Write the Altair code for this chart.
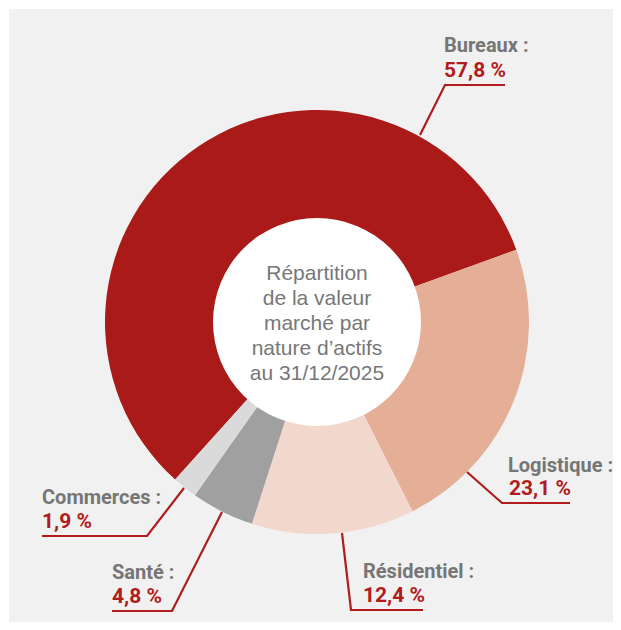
import math
import altair as alt
import pandas as pd

# ---- data ----
categories = ["Bureaux", "Logistique", "Résidentiel", "Santé", "Commerces"]
values = [57.8, 23.1, 12.4, 4.8, 1.9]
colors = ["#a91a18", "#e4ae97", "#f2d7cc", "#a0a0a0", "#dadada"]
center_lines = ["Répartition", "de la valeur", "marché par", "nature d’actifs", "au 31/12/2025"]

# ---- layout (page pixel coordinates) ----
OFF = 9
W, H = 604, 613
CX, CY = 317 - OFF, 322 - OFF
R_OUT, R_IN = 212, 104
START_DEG = 222.0

label_pos = {  # name baseline anchor (left), value baseline anchor (left)
    "Bureaux": ((444, 52), (444, 77)),
    "Logistique": ((508, 472), (509, 495)),
    "Résidentiel": ((363, 578), (363, 602)),
    "Santé": ((112, 579), (112, 603)),
    "Commerces": ((42, 504), (42, 528)),
}
leaders = {
    "Bureaux": [(420, 135), (445, 85), (505, 85)],
    "Logistique": [(467, 472), (502, 503), (570, 503)],
    "Résidentiel": [(342, 533), (351, 610), (423, 610)],
    "Santé": [(222, 512), (172, 611), (112, 611)],
    "Commerces": [(184, 488), (147, 536), (42, 536)],
}

RED_TXT = "#b01c1c"
GRAY_TXT = "#767676"
LINE_RED = "#b01c1c"
LABEL_FONT = "Roboto, sans-serif"

df = pd.DataFrame({"cat": categories, "val": values, "idx": list(range(len(values)))})

start = math.radians(START_DEG)
arcs = alt.Chart(df).mark_arc(outerRadius=R_OUT, innerRadius=R_IN - 2, stroke=None).encode(
    theta=alt.Theta("val:Q", stack=True, scale=alt.Scale(range=[start, start + 2 * math.pi])),
    order=alt.Order("idx:Q"),
    color=alt.Color("cat:N", scale=alt.Scale(domain=categories, range=colors), legend=None),
    x=alt.value(CX),
    y=alt.value(CY),
)

hole = alt.Chart(pd.DataFrame({"a": [0]})).mark_arc(
    radius=R_IN, theta=0, theta2=2 * math.pi, fill="white", stroke=None
).encode(x=alt.value(CX), y=alt.value(CY))

cdf = pd.DataFrame({"t": center_lines, "y": [280 - OFF + 25 * i for i in range(len(center_lines))]})
ctext = alt.Chart(cdf).mark_text(
    font="Liberation Sans, Arial, sans-serif", fontSize=21, color="#777777",
    align="center", baseline="alphabetic"
).encode(x=alt.value(CX), y=alt.Y("y:Q", scale=None), text="t:N")

rows = []
for c in categories:
    for k, (px, py) in enumerate(leaders[c]):
        rows.append({"cat": c, "k": k, "px": px - OFF, "py": py - OFF})
ldf = pd.DataFrame(rows)
lines = alt.Chart(ldf).mark_line(color=LINE_RED, strokeWidth=2.2, strokeJoin="miter").encode(
    x=alt.X("px:Q", scale=None), y=alt.Y("py:Q", scale=None), detail="cat:N", order="k:Q"
)

name_rows, val_rows = [], []
for c, v in zip(categories, values):
    (nx, ny), (vx, vy) = label_pos[c]
    name_rows.append({"t": f"{c} :", "x": nx - OFF, "y": ny - OFF})
    val_rows.append({"t": f"{v:.1f}".replace(".", ",") + " %", "x": vx - OFF, "y": vy - OFF})

names = alt.Chart(pd.DataFrame(name_rows)).mark_text(
    font=LABEL_FONT, fontSize=20, fontWeight="bold", color=GRAY_TXT, align="left", baseline="alphabetic"
).encode(x=alt.X("x:Q", scale=None), y=alt.Y("y:Q", scale=None), text="t:N")

vals = alt.Chart(pd.DataFrame(val_rows)).mark_text(
    font=LABEL_FONT, fontSize=21, fontWeight="bold", color=RED_TXT, align="left", baseline="alphabetic"
).encode(x=alt.X("x:Q", scale=None), y=alt.Y("y:Q", scale=None), text="t:N")

chart = alt.layer(arcs, hole, ctext, lines, names, vals).properties(
    width=W, height=H, background="white",
    padding={"left": 1, "top": 1, "right": 0, "bottom": 0},
    autosize=alt.AutoSizeParams(type="none"),
).configure_view(fill="#f1f1f1", stroke=None)

chart.save("out.html", embed_options={"renderer": "svg", "actions": False})
